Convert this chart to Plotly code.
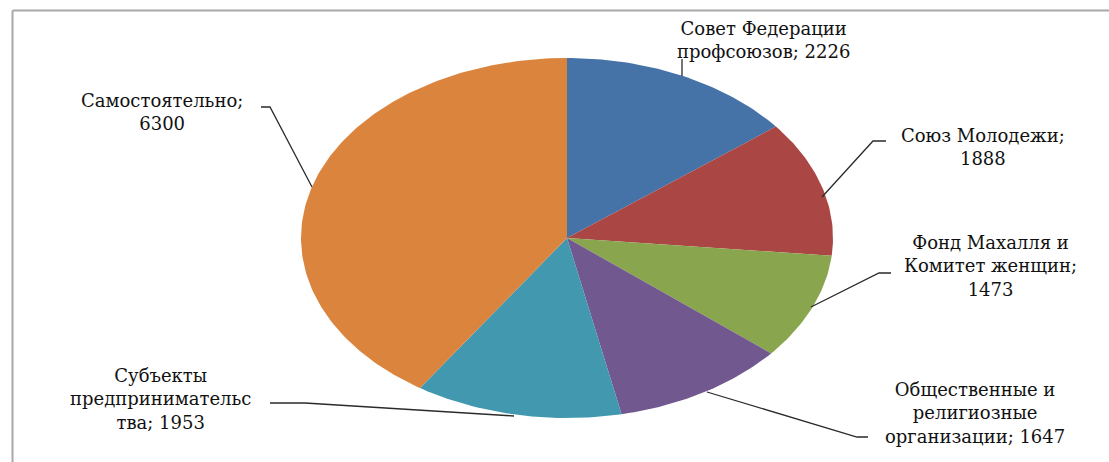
import numpy as np
import plotly.graph_objects as go

# ---- data ----
categories = [
    "Совет Федерации<br>профсоюзов",
    "Союз Молодежи;",
    "Фонд Махалля и<br>Комитет женщин;",
    "Общественные и<br>религиозные<br>организации;",
    "Субъекты<br>предпринимательс<br>тва;",
    "Самостоятельно;",
]
values = [2226, 1888, 1473, 1647, 1953, 6300]
label_texts = [
    "Совет Федерации<br>профсоюзов; 2226",
    "Союз Молодежи;<br>1888",
    "Фонд Махалля и<br>Комитет женщин;<br>1473",
    "Общественные и<br>религиозные<br>организации; 1647",
    "Субъекты<br>предпринимательс<br>тва; 1953",
    "Самостоятельно;<br>6300",
]
colors = ["#4572A7", "#AA4643", "#89A54E", "#71588F", "#4198AF", "#DB843D"]

# ---- layout geometry (pixels) ----
W, H = 1109, 462
CX, CY, RX, RY = 567, 238, 266, 180

fig = go.Figure()

total = float(sum(values))
start = 0.0
for name, v, c in zip(categories, values, colors):
    a0 = start / total * 2 * np.pi
    a1 = (start + v) / total * 2 * np.pi
    t = np.linspace(a0, a1, max(8, int((a1 - a0) / (2 * np.pi) * 400)))
    xs = np.concatenate([[0.0], np.sin(t), [0.0]])
    ys = np.concatenate([[0.0], np.cos(t), [0.0]])
    fig.add_trace(go.Scatter(
        x=xs, y=ys, mode="lines", fill="toself", fillcolor=c,
        line=dict(width=0, color=c), name=name.replace("<br>", " "),
        hoverinfo="name", showlegend=False,
    ))
    start += v

def px(x):
    return x / W

def py(y):
    return 1 - y / H

label_pos = [(763, 40), (983, 147), (990, 266), (975, 413), (160, 399), (162, 112)]
leaders = [
    [(682, 76), (682, 59)],
    [(822, 197), (873, 141), (886, 141)],
    [(811, 307), (879, 273), (891, 273)],
    [(707, 392), (857, 437), (868, 437)],
    [(514, 416), (305, 403), (270, 403)],
    [(312, 187), (270, 107), (261, 107)],
]

annotations = []
for txt, (lx, ly) in zip(label_texts, label_pos):
    annotations.append(dict(
        x=px(lx), y=py(ly), xref="paper", yref="paper", text=txt,
        showarrow=False, xanchor="center", yanchor="middle", align="center",
        font=dict(family="DejaVu Serif", size=18, color="#111111"),
    ))

shapes = []
for pts in leaders:
    path = "M " + " L ".join(f"{px(x):.5f},{py(y):.5f}" for x, y in pts)
    shapes.append(dict(type="path", path=path, xref="paper", yref="paper",
                       line=dict(color="#2a2a2a", width=1.3)))
# chart frame (top and left edges visible)
shapes.append(dict(type="line", xref="paper", yref="paper",
                   x0=px(12.5), y0=py(10.5), x1=1.02, y1=py(10.5),
                   line=dict(color="#A8A8A8", width=2)))
shapes.append(dict(type="line", xref="paper", yref="paper",
                   x0=px(12.5), y0=py(10.5), x1=px(12.5), y1=-0.02,
                   line=dict(color="#A8A8A8", width=2)))

fig.update_layout(
    width=W, height=H,
    margin=dict(l=0, r=0, t=0, b=0),
    paper_bgcolor="white", plot_bgcolor="white",
    xaxis=dict(range=[-CX / RX, (W - CX) / RX], visible=False, fixedrange=True),
    yaxis=dict(range=[-(H - CY) / RY, CY / RY], visible=False, fixedrange=True),
    annotations=annotations, shapes=shapes,
    showlegend=False,
)

fig.write_html(
    "out.html",
    config={"displayModeBar": False},
    post_script="document.body.style.margin='0';document.body.style.overflow='hidden';",
)
